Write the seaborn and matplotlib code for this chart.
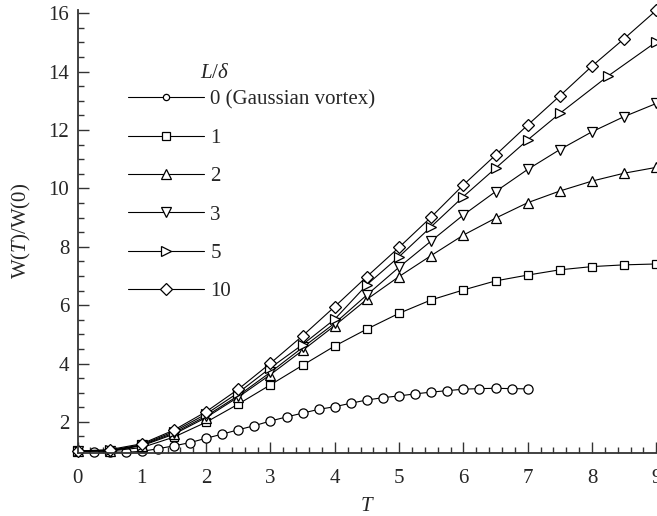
import matplotlib
matplotlib.use("Agg")
import matplotlib.pyplot as plt
from matplotlib.ticker import MultipleLocator
from matplotlib.lines import Line2D
import seaborn as sns

# ---- data ----
T_circ = [0, 0.25, 0.5, 0.75, 1, 1.25, 1.5, 1.75, 2, 2.25, 2.5, 2.75, 3, 3.25, 3.5,
          3.75, 4, 4.25, 4.5, 4.75, 5, 5.25, 5.5, 5.75, 6, 6.25, 6.5, 6.75, 7]
W_0 = [1.0, 0.96, 0.97, 0.96, 0.99, 1.08, 1.18, 1.29, 1.44, 1.58, 1.73, 1.87, 2.03,
       2.17, 2.30, 2.43, 2.52, 2.64, 2.75, 2.83, 2.89, 2.96, 3.02, 3.07, 3.12, 3.14,
       3.15, 3.14, 3.13]

T_half = [0, 0.5, 1, 1.5, 2, 2.5, 3, 3.5, 4, 4.5, 5, 5.5, 6, 6.5, 7, 7.5, 8, 8.5, 9]
W_1 = [1.0, 1.0, 1.12, 1.48, 1.99, 2.61, 3.27, 3.94, 4.60, 5.18, 5.72, 6.18, 6.52,
       6.83, 7.03, 7.21, 7.32, 7.38, 7.41]
W_2 = [1.0, 1.01, 1.18, 1.58, 2.15, 2.85, 3.62, 4.45, 5.30, 6.20, 6.98, 7.70, 8.40,
       8.98, 9.51, 9.91, 10.25, 10.52, 10.72]
W_3 = [1.0, 1.01, 1.20, 1.62, 2.20, 2.90, 3.70, 4.55, 5.38, 6.35, 7.30, 8.20, 9.09,
       9.89, 10.65, 11.33, 11.94, 12.46, 12.91]
T_5 = [0, 0.5, 1, 1.5, 2, 2.5, 3, 3.5, 4, 4.5, 5, 5.5, 6, 6.5, 7, 7.5, 8.25, 9]
W_5 = [1.0, 1.02, 1.22, 1.67, 2.27, 3.00, 3.85, 4.65, 5.52, 6.70, 7.66, 8.69, 9.72,
       10.69, 11.66, 12.57, 13.85, 15.02]
W_10 = [1.0, 1.05, 1.25, 1.72, 2.35, 3.12, 4.01, 4.95, 5.95, 6.98, 7.98, 9.02, 10.12,
        11.14, 12.17, 13.17, 14.19, 15.13, 16.1]

labels = ["0 (Gaussian vortex)", "1", "2", "3", "5", "10"]
series = [(T_circ, W_0), (T_half, W_1), (T_half, W_2), (T_half, W_3), (T_5, W_5), (T_half, W_10)]
markers = ["o", "s", "^", "v", ">", "D"]
msizes = [6.6, 6.0, 7.0, 7.0, 7.0, 5.8]

# ---- style ----
sns.set_style("ticks")
plt.rcParams["font.family"] = ["Liberation Serif", "DejaVu Serif"]
plt.rcParams["mathtext.fontset"] = "custom"
plt.rcParams["mathtext.rm"] = "Liberation Serif"
plt.rcParams["mathtext.it"] = "Liberation Serif:italic"
plt.rcParams["font.size"] = 15

fig = plt.figure(figsize=(6.57, 5.16), dpi=100)
ax = fig.add_axes([0.118, 0.123, 0.881, 0.857])

for (tx, wy), m, ms in zip(series, markers, msizes):
    sns.lineplot(x=tx, y=wy, ax=ax, color="black", linewidth=0.8, marker=m,
                 markersize=ms, markerfacecolor="white",
                 markeredgecolor="black", markeredgewidth=0.9, clip_on=False,
                 sort=False, errorbar=None)

ax.set_xlim(0, 9)
ax.set_ylim(0.95, 16.1)
ax.xaxis.set_major_locator(MultipleLocator(1))
ax.xaxis.set_minor_locator(MultipleLocator(0.2))
ax.yaxis.set_minor_locator(MultipleLocator(0.5))
ax.set_yticks([2, 4, 6, 8, 10, 12, 14, 16])
ax.tick_params(which="major", direction="in", length=8, width=1.0, labelsize=15,
               color="#333333")
ax.tick_params(axis="x", which="major", pad=12)
ax.tick_params(axis="y", which="major", pad=6)
ax.tick_params(which="minor", direction="in", length=4.5, width=1.0, color="#333333")
for s in ["top", "right"]:
    ax.spines[s].set_visible(False)
for s in ["left", "bottom"]:
    ax.spines[s].set_linewidth(1.3)
    ax.spines[s].set_color("#333333")

ax.set_xlabel(r"$\mathit{T}$", fontsize=15, labelpad=6)
ax.set_ylabel(r"W($\mathit{T}$)/W(0)", fontsize=15, labelpad=11)

handles = []
for m, ms in zip(markers, msizes):
    handles.append(Line2D([], [], color="black", linewidth=0.8, marker=m,
                          markersize=(4.5 if m == "o" else ms),
                          markerfacecolor="white", markeredgecolor="black",
                          markeredgewidth=0.9))
leg = ax.legend(handles, labels, loc="upper left", bbox_to_anchor=(128 / 657, 1 - 90 / 516),
                bbox_transform=fig.transFigure, frameon=False, fontsize=15,
                handlelength=3.65, handletextpad=0.3, labelspacing=0.9, borderpad=0,
                borderaxespad=0)
fig.text(215 / 657, 1 - 74 / 516, r"$L/\delta$", fontsize=15, ha="center", va="center")

fig.savefig("out.png", dpi=100)
